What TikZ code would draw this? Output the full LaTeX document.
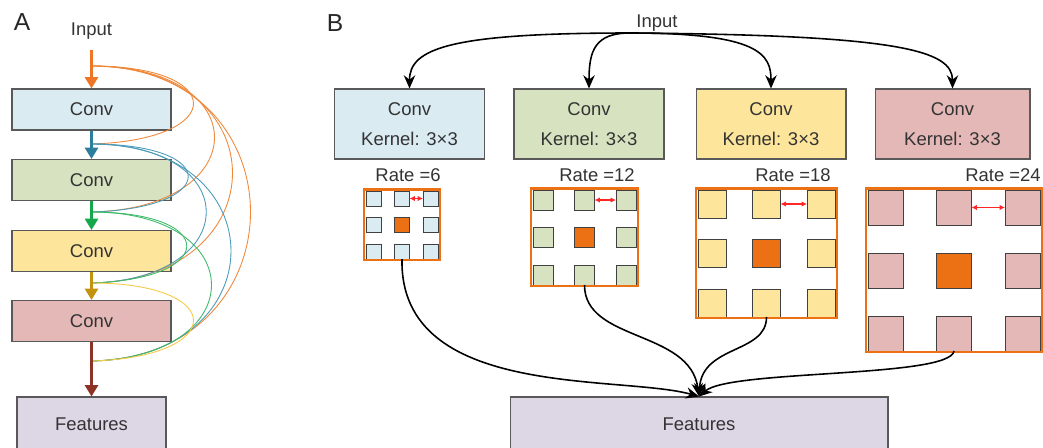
\documentclass[tikz,border=0pt]{standalone}
\usepackage{fontspec}
\setmainfont{Liberation Sans}
\usetikzlibrary{arrows.meta}

\definecolor{boxblue}{HTML}{DAEBF2}
\definecolor{boxgreen}{HTML}{D6E2C0}
\definecolor{boxyellow}{HTML}{FDE59B}
\definecolor{boxred}{HTML}{E4B8B7}
\definecolor{boxlilac}{HTML}{DCD6E5}
\definecolor{gridorange}{HTML}{EC7014}
\definecolor{lineorange}{HTML}{EE7523}
\definecolor{lineteal}{HTML}{2B7E9C}
\definecolor{linegreen}{HTML}{14A84A}
\definecolor{linegold}{HTML}{C3930E}
\definecolor{linered}{HTML}{8E3226}
\definecolor{skiporange}{HTML}{F0883A}
\definecolor{skipteal}{HTML}{4B9BB8}
\definecolor{skipgreen}{HTML}{3DBA6A}
\definecolor{skipyellow}{HTML}{F6CA45}

\tikzset{
  txt/.style={font=\fontsize{10.5}{12}\selectfont, text=black!80},
  convbox/.style={txt, draw=black!65, line width=0.6pt, minimum width=3.18cm, minimum height=0.82cm},
  kernbox/.style={txt, draw=black!65, line width=0.6pt, minimum width=3cm, minimum height=1.4cm, align=center},
  featbox/.style={txt, draw=black!65, line width=0.6pt, fill=boxlilac, minimum height=1.08cm},
  lbl/.style={txt, inner sep=0pt},
  panel/.style={font=\fontsize{14}{16}\selectfont, text=black!85, inner sep=0pt},
  flow/.style={line width=1.4pt, -{Triangle[width=7.5pt,length=6.5pt]}},
  skip/.style={line width=0.5pt},
  feed/.style={line width=0.9pt, -{Stealth[width=6.5pt,length=7.5pt]}},
  cell/.style={draw=black!75, line width=0.5pt},
  gap/.style={red!85, line width=0.6pt, {Latex[length=3pt,width=3pt]}-{Latex[length=3pt,width=3pt]}},
}

\begin{document}
\begin{tikzpicture}[x=0.02cm, y=-0.02cm]
\useasboundingbox (0,0) rectangle (1043,447);
\clip (0,0) rectangle (1043,447);

% Panel A: stacked convolutions
\node[panel] (pA) at (22,22) {A};
\node[lbl] (inA) at (91.5,31) {Input};
\node[convbox, fill=boxblue] (c1) at (91.5,109.5) {Conv};
\node[convbox, fill=boxgreen] (c2) at (91.5,180) {Conv};
\node[convbox, fill=boxyellow] (c3) at (91.5,251) {Conv};
\node[convbox, fill=boxred] (c4) at (91.5,321) {Conv};
\node[featbox, minimum width=2.98cm] (fA) at (91.5,424) {Features};

\coordinate (j0) at (91.5,66);
\coordinate (j1) at (91.5,144);
\coordinate (j2) at (91.5,212);
\coordinate (j3) at (91.5,283);
\coordinate (j4) at (91.5,361);

% dense skip links
\foreach \a/\b/\d/\col in {0/1/136/skiporange, 0/2/164/skiporange, 0/3/188/skiporange, 0/4/212/skiporange,
                           1/2/129/skipteal, 1/3/153/skipteal, 1/4/186/skipteal,
                           2/3/127/skipgreen, 2/4/160/skipgreen, 3/4/136/skipyellow}
  \draw[skip, \col] (j\a) .. controls +(\d,0) and +(\d,-4) .. (j\b);

\draw[flow, lineorange] ([yshift=-0.2cm]inA.south) -- (c1.north);
\draw[flow, lineteal] (c1.south) -- (c2.north);
\draw[flow, linegreen] (c2.south) -- (c3.north);
\draw[flow, linegold] (c3.south) -- (c4.north);
\draw[flow, linered] (c4.south) -- (fA.north);

% Panel B: atrous convolutions
\node[panel] (pB) at (335,23) {B};
\node[lbl] (inB) at (657,23) {Input};
\coordinate (src) at (630,33);
\node[kernbox, fill=boxblue] (k1) at (409.5,124) {Conv\\[5pt]Kernel: 3×3};
\node[kernbox, fill=boxgreen] (k2) at (589,124) {Conv\\[5pt]Kernel: 3×3};
\node[kernbox, fill=boxyellow] (k3) at (771,124) {Conv\\[5pt]Kernel: 3×3};
\node[kernbox, fill=boxred, minimum width=3.1cm] (k4) at (952.5,124) {Conv\\[5pt]Kernel: 3×3};

\draw[feed] (src) .. controls +(-180,0) and +(0,-40) .. (k1.north);
\draw[feed] (src) .. controls +(-35,0) and +(0,-38) .. (k2.north);
\draw[feed] (src) .. controls +(130,0) and +(0,-34) .. (k3.north);
\draw[feed] (src) .. controls +(270,2) and +(0,-38) .. (k4.north);

\node[lbl] (r1) at (408,175) {Rate =6};
\node[lbl] (r2) at (597,175) {Rate =12};
\node[lbl] (r3) at (793,175) {Rate =18};
\node[lbl] (r4) at (1003,175) {Rate =24};

% dilated kernels
\foreach \n/\gx/\gy/\dx/\dy/\cs/\gc in {1/366/191/28.5/26.5/15/boxblue, 2/533/190/41.5/37.5/20/boxgreen,
                                        3/698/190/54.5/49.5/28/boxyellow, 4/868/190/68.5/63/35/boxred}{
  \foreach \i in {0,1,2}
    \foreach \j in {0,1,2}
      \draw[cell, fill=\gc] ({\gx+\i*\dx},{\gy+\j*\dy}) rectangle ++(\cs,\cs);
  \draw[cell, fill=gridorange] ({\gx+\dx},{\gy+\dy}) rectangle ++(\cs,\cs);
  \draw[gridorange, line width=1.6pt] ({\gx-2},{\gy-1.5}) rectangle ({\gx+2*\dx+\cs+2},{\gy+2*\dy+\cs+1});
  \draw[gap] ({\gx+\dx+\cs},{\gy+\cs/2}) -- ({\gx+2*\dx},{\gy+\cs/2});
  \coordinate (g\n) at ({\gx+\dx+\cs/2},{\gy+2*\dy+\cs});
}

\node[featbox, minimum width=7.56cm] (fB) at (699,424) {Features};

\draw[feed] (g1) .. controls +(-3,141) and +(-79,-22) .. (fB.north);
\draw[feed] (g2) .. controls +(0,57) and +(-9,-67) .. (fB.north);
\draw[feed] (g3) .. controls +(0,37) and +(3,-52) .. (fB.north);
\draw[feed] (g4) .. controls +(-4,27) and +(31,-27) .. (fB.north);
\end{tikzpicture}
\end{document}
